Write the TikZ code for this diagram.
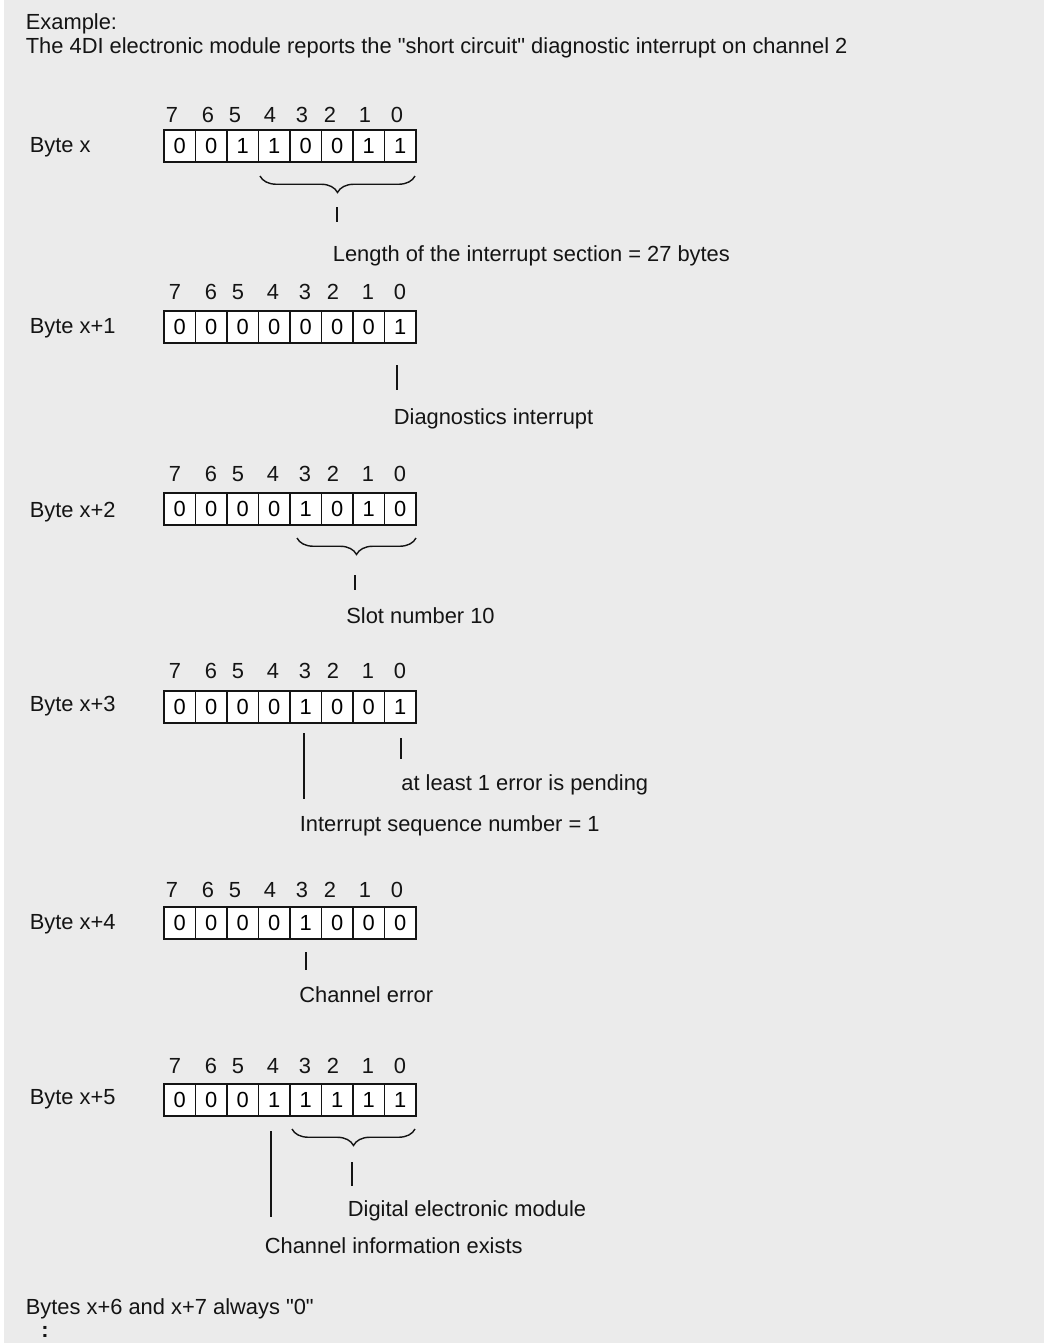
\documentclass[tikz,border=0pt]{standalone}
\usepackage{fontspec}
\setmainfont{Liberation Sans}[Ligatures=TeXOff]
\usetikzlibrary{positioning,decorations.pathreplacing}

\definecolor{panel}{RGB}{235,235,235}
\definecolor{ink}{RGB}{20,20,20}

\tikzset{
  txt/.style={anchor=base west, inner sep=0pt, text=ink},
  bitno/.style={anchor=base, inner sep=0pt, text=ink},
  cell/.style={draw=ink, fill=white, line width=0.85pt, minimum width=0.63cm, minimum height=0.64cm, inner sep=0pt},
  pointer/.style={draw=ink, line width=0.75pt},
  underbrace/.style={draw=ink, line width=0.8pt, decorate, decoration={brace, mirror, amplitude=0.33cm}}
}

% #1 name, #2 label, #3 box centre y, #4 bits, #5 bit numbers baseline, #6 shift, #7 label baseline
\newcommand{\byterow}[7]{
  \node[txt] (#1-label) at (29.5,#7) {#2};
  \foreach \v [count=\i from 0] in {#4}
    \node[cell] (#1-\i) at ({179.75+31.5*\i},#3) {\v};
  \foreach \n/\px in {7/175,6/211,5/238,4/273,3/305,2/333,1/368,0/400}
    \node[bitno] (#1-n\n) at (\px+#6,#5) {\n};
}

\begin{document}
\begin{tikzpicture}[x=0.02cm, y=-0.02cm, font=\fontsize{12.45}{14}\selectfont]
  % panel
  \fill[white] (0,0) rectangle (1049,1343);
  \fill[panel] (4,0) rectangle (1044,1343);
  \useasboundingbox (0,0) rectangle (1049,1343);

  % heading
  \node[txt] (title) at (25.5,29) {Example:};
  \node[txt] (subtitle) at (25.5,53) {The 4DI electronic module reports the "short circuit" diagnostic interrupt on channel 2};

  % byte x
  \byterow{b0}{Byte x}{146}{0,0,1,1,0,0,1,1}{122}{-3}{152}
  \draw[underbrace] (260,176) -- (415,176);
  \draw[pointer] (337,207) -- (337,222);
  \node[txt] (length) at (332.5,261) {Length of the interrupt section = 27 bytes};

  % byte x+1
  \byterow{b1}{Byte x+1}{327}{0,0,0,0,0,0,0,1}{299}{0}{333.5}
  \draw[pointer] (397,365) -- (397,390);
  \node[txt] (diag) at (393.5,424) {Diagnostics interrupt};

  % byte x+2
  \byterow{b2}{Byte x+2}{509}{0,0,0,0,1,0,1,0}{481}{0}{517}
  \draw[underbrace] (297,538) -- (416,538);
  \draw[pointer] (355,575) -- (355,590);
  \node[txt] (slot) at (346,623) {Slot number 10};

  % byte x+3
  \byterow{b3}{Byte x+3}{707}{0,0,0,0,1,0,0,1}{678}{0}{711}
  \draw[pointer] (304,733) -- (304,799);
  \draw[pointer] (401,738) -- (401,759);
  \node[txt] (pending) at (401,790) {at least 1 error is pending};
  \node[txt] (seqno) at (299.5,831) {Interrupt sequence number = 1};

  % byte x+4
  \byterow{b4}{Byte x+4}{923}{0,0,0,0,1,0,0,0}{897}{-3}{929}
  \draw[pointer] (306,952) -- (306,970);
  \node[txt] (chanerr) at (299,1002) {Channel error};

  % byte x+5
  \byterow{b5}{Byte x+5}{1100}{0,0,0,1,1,1,1,1}{1073}{0}{1104}
  \draw[underbrace] (292,1129) -- (415,1129);
  \draw[pointer] (352,1162) -- (352,1186);
  \draw[pointer] (271,1131) -- (271,1217);
  \node[txt] (module) at (347.5,1216) {Digital electronic module};
  \node[txt] (chaninfo) at (264.5,1253) {Channel information exists};

  % remaining bytes
  \node[txt] (rest) at (25.5,1314) {Bytes x+6 and x+7 always "0"};
  \node[txt] (more) at (41,1337) {\textbf{:}};
\end{tikzpicture}
\end{document}
